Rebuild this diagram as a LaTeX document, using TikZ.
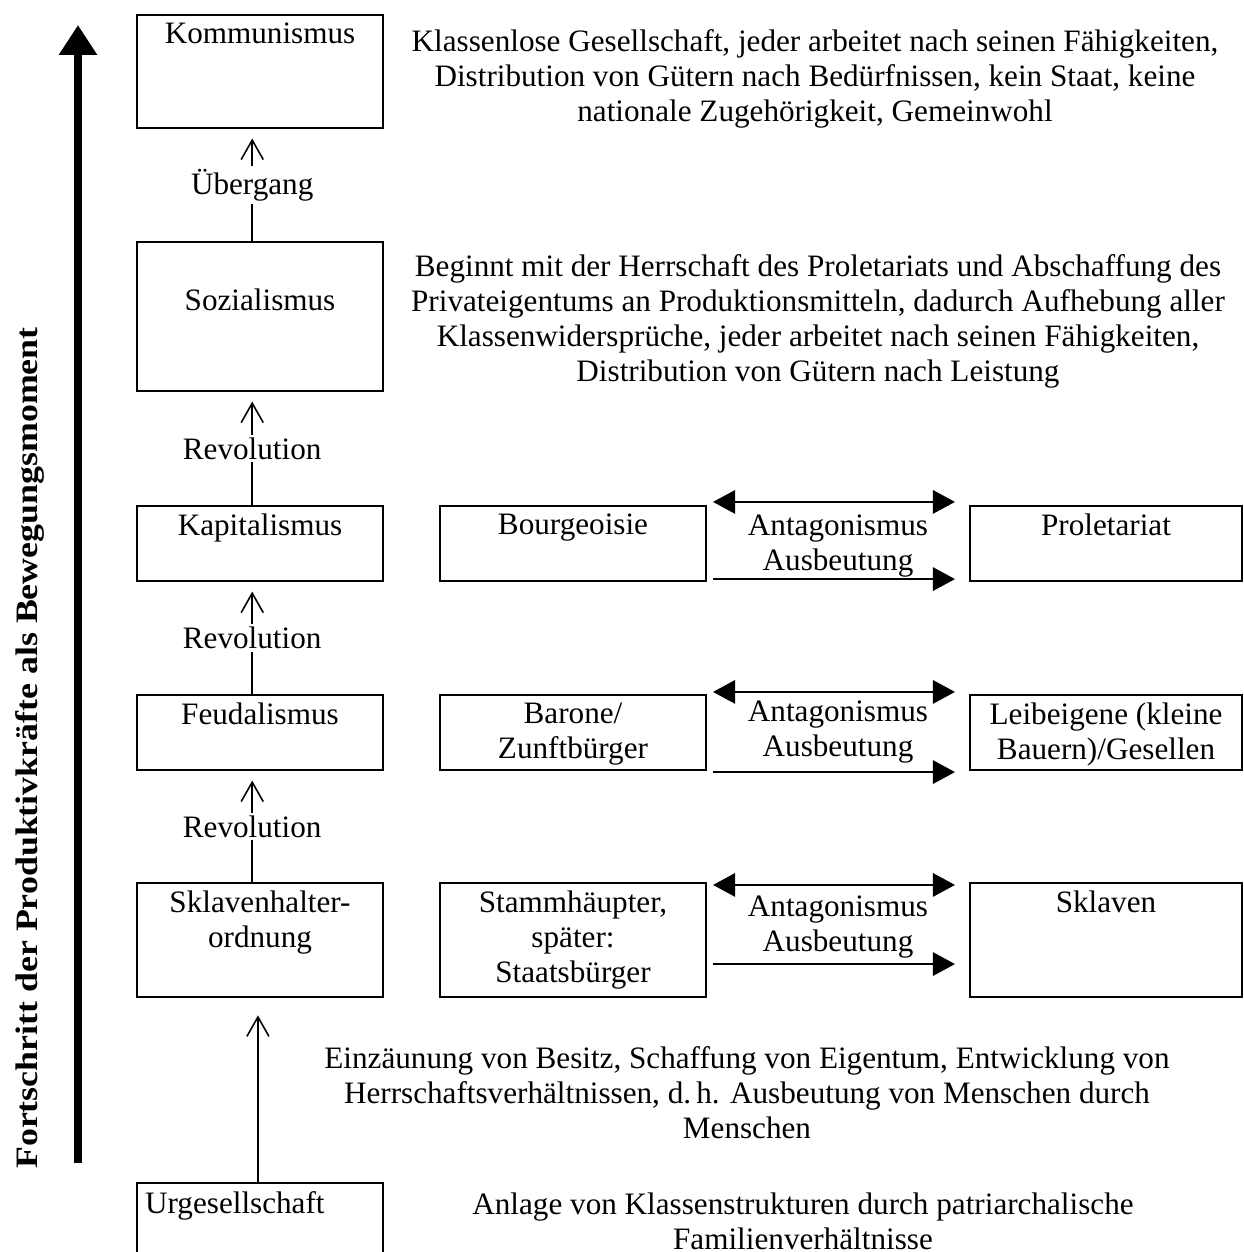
\documentclass[tikz,border=0pt]{standalone}
\usepackage{fontspec}
\setmainfont{Liberation Serif}
\usetikzlibrary{positioning}
\usetikzlibrary{calc}
\usetikzlibrary{arrows.meta}

\begin{document}
\begin{tikzpicture}[x=0.385pt, y=-0.385pt,  every node/.style={font=\fontsize{12}{13.5}\selectfont},  epoch/.style={    draw,    line width=1.1pt,    minimum width=94.7pt,    inner sep=0pt  },  klasse/.style={    draw,    line width=0.8pt,    minimum height=28.9pt,    inner sep=0pt  },  desc/.style={    align=center  },  uparrow/.style={    -{Straight Barb[length=7.5pt,width=8.5pt]},    line width=0.6pt,    shorten >=3.5pt  },  antagon/.style={    {Triangle[length=8.5pt,width=9pt]}-{Triangle[length=8.5pt,width=9pt]},    line width=0.75pt  },  exploit/.style={    -{Triangle[length=8.5pt,width=9pt]},    line width=0.75pt  },  progress/.style={    -{Triangle[length=11.5pt,width=14pt]},    line width=3.4pt  }]
		\useasboundingbox (0,0) rectangle (1244,1252);
		% Epochs
		\node[epoch, minimum height=43.5pt] (kom) at (260,71.5) {};
		\node[epoch, minimum height=57.4pt] (soz) at (260,316.5) {};
		\node[epoch, minimum height=28.9pt] (kap) at (260,543.5) {};
		\node[epoch, minimum height=28.9pt] (feu) at (260,732.5) {};
		\node[epoch, minimum height=43.9pt] (skl) at (260,940) {};
		\node[epoch, line width=0.8pt, minimum height=34.7pt] (urg) at (260,1228) {};
		% Classes
		\node[klasse, minimum width=102.4pt] (bour) at (573,543.5) {};
		\node[klasse, minimum width=104.7pt] (prol) at (1106,543.5) {};
		\node[klasse, minimum width=102.4pt] (baron) at (573,732.5) {};
		\node[klasse, minimum width=104.7pt] (leib) at (1106,732.5) {};
		\node[klasse, minimum width=102.4pt, minimum height=43.9pt] (stamm) at (573,940) {};
		\node[klasse, minimum width=104.7pt, minimum height=43.9pt] (sklav) at (1106,940) {};
		% Names
		\node[below=0pt of kom.north] (komname) {Kommunismus};
		\node[below=15pt of soz.north] (sozname) {Sozialismus};
		\node[below=0pt of kap.north] (kapname) {Kapitalismus};
		\node[below=0pt of feu.north] (feuname) {Feudalismus};
		\node[below=0pt of skl.north, desc] (sklname) {Sklavenhalter-\\ordnung};
		\node[below right=0pt and 0pt of urg.north west] (urgname) {Urgesellschaft};
		\node[below=0pt of bour.north] (bourname) {Bourgeoisie};
		\node[below=0pt of prol.north] (prolname) {Proletariat};
		\node[below=0pt of baron.north, desc] (baronname) {Barone/\\Zunftbürger};
		\node[below=0pt of leib.north, desc] (leibname) {Leibeigene (kleine\\Bauern)/Gesellen};
		\node[below=0pt of stamm.north, desc] (stammname) {Stammhäupter,\\später:\\Staatsbürger};
		\node[below=0pt of sklav.north] (sklavname) {Sklaven};
		% Descriptions
		\node[desc] (komtxt) at (815,79) {Klassenlose Gesellschaft, jeder arbeitet nach seinen Fähigkeiten,\\Distribution von Gütern nach Bedürfnissen, kein Staat, keine\\nationale Zugehörigkeit, Gemeinwohl};
		\node[desc] (soztxt) at (818,321) {Beginnt mit der Herrschaft des Proletariats und Abschaffung des\\Privateigentums an Produktionsmitteln, dadurch Aufhebung aller\\Klassenwidersprüche, jeder arbeitet nach seinen Fähigkeiten,\\Distribution von Gütern nach Leistung};
		\node[desc] (skltxt) at (747,1093) {Einzäunung von Besitz, Schaffung von Eigentum, Entwicklung von\\Herrschaftsverhältnissen, d.\,h. Ausbeutung von Menschen durch\\Menschen};
		\node[desc] (urgtxt) at (803,1221) {Anlage von Klassenstrukturen durch patriarchalische\\Familienverhältnisse};
		% Antagonism
		\node[desc, yshift=-1pt] (ant1) at ($(bour.east)!0.5!(prol.west)$) {Antagonismus\\Ausbeutung};
		\node[desc] (ant2) at ($(baron.east)!0.5!(leib.west)$) {Antagonismus\\Ausbeutung};
		\node[desc, yshift=5pt] (ant3) at ($(stamm.east)!0.5!(sklav.west)$) {Antagonismus\\Ausbeutung};
		\draw[antagon] ([shift={(6,-3)}]bour.north east) -- ([shift={(-14,-3)}]prol.north west);
		\draw[exploit] ([shift={(6,-3)}]bour.south east) -- ([shift={(-14,-3)}]prol.south west);
		\draw[antagon] ([shift={(6,-2)}]baron.north east) -- ([shift={(-14,-2)}]leib.north west);
		\draw[exploit] ([shift={(6,1)}]baron.south east) -- ([shift={(-14,1)}]leib.south west);
		\draw[antagon] ([shift={(6,3)}]stamm.north east) -- ([shift={(-14,3)}]sklav.north west);
		\draw[exploit] ([shift={(6,-34)}]stamm.south east) -- ([shift={(-14,-34)}]sklav.south west);
		% Arrows
		\draw[uparrow] ([xshift=-3pt]soz.north) -- ([xshift=-3pt]kom.south) node[midway, fill=white, inner sep=1pt] {Übergang};
		\draw[uparrow] ([xshift=-3pt]kap.north) -- ([xshift=-3pt]soz.south) node[midway, fill=white, inner sep=1pt] {Revolution};
		\draw[uparrow] ([xshift=-3pt]feu.north) -- ([xshift=-3pt]kap.south) node[midway, fill=white, inner sep=1pt] {Revolution};
		\draw[uparrow] ([xshift=-3pt]skl.north) -- ([xshift=-3pt]feu.south) node[midway, fill=white, inner sep=1pt] {Revolution};
		\draw[uparrow, shorten >=6.5pt] ([xshift=-0.8pt]urg.north) -- ([xshift=-0.8pt]skl.south);
		% Progress
		\coordinate (fbot) at (78,1163);
		\coordinate (ftop) at (78,25);
		\draw[progress] (fbot) -- (ftop);
		\node[rotate=90, font=\fontsize{12}{13.5}\selectfont\bfseries] (fort) at (30,748) {\scalebox{1.15}[1]{Fortschritt der Produktivkräfte als Bewegungsmoment}};
	\end{tikzpicture}
\end{document}
